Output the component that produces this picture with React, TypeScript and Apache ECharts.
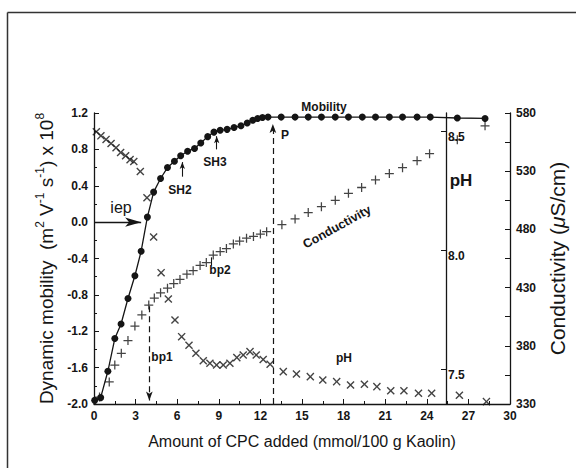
import React, { useEffect, useRef } from "react";
import * as echarts from "echarts";

// ---- data ----
const xTickLabels = [0, 3, 6, 9, 12, 15, 18, 21, 24, 27, 30];

const mobX = [0.05, 0.48, 1.0, 1.5, 1.95, 2.45, 2.95, 3.4, 3.85, 4.3, 4.8, 5.3, 5.8, 6.25, 6.75, 7.25, 7.7, 8.2, 8.65, 9.1, 9.6, 10.1, 10.6, 11.05, 11.45, 11.8, 12.15, 12.55, 13.5, 14.5, 15.45, 16.4, 17.4, 18.35, 19.35, 20.3, 21.3, 22.25, 23.3, 24.25, 26.2, 28.2];
const mobY = [-1.96, -1.93, -1.64, -1.28, -1.12, -0.84, -0.59, -0.32, 0.055, 0.33, 0.48, 0.6, 0.67, 0.73, 0.78, 0.81, 0.87, 0.94, 0.99, 1.01, 1.02, 1.04, 1.06, 1.09, 1.12, 1.14, 1.15, 1.155, 1.155, 1.155, 1.155, 1.155, 1.155, 1.155, 1.155, 1.155, 1.155, 1.155, 1.155, 1.155, 1.145, 1.14];

const condX = [0.4, 1.1, 1.5, 1.97, 2.45, 2.95, 3.45, 3.95, 4.35, 4.8, 5.3, 5.75, 6.2, 6.7, 7.15, 7.65, 8.1, 8.6, 9.1, 9.55, 10.05, 10.5, 11.0, 11.5, 12.0, 12.45, 13.55, 14.5, 15.45, 16.4, 17.4, 18.35, 19.3, 20.3, 21.3, 22.25, 23.3, 24.2, 26.2, 28.2];
const condY = [336, 349, 363.5, 373.5, 384.5, 397, 406.5, 415, 421, 425.5, 429.5, 433.5, 437, 441.5, 444.5, 449, 451.5, 458, 461, 463.5, 467.5, 470, 472.5, 474, 476, 478, 484, 489, 494.5, 499.5, 505, 511, 516, 522.5, 528, 533, 539, 545, 557, 569];

const phX = [0.17, 0.5, 0.87, 1.23, 1.59, 1.92, 2.28, 2.6, 2.87, 3.34, 3.82, 4.3, 4.84, 5.36, 5.84, 6.32, 6.85, 7.35, 7.88, 8.36, 8.84, 9.32, 9.8, 10.3, 10.76, 11.25, 11.7, 12.2, 12.7, 13.65, 14.6, 15.6, 16.5, 17.5, 18.5, 19.5, 20.4, 21.4, 22.35, 23.4, 24.35, 26.35, 28.3];
const phY = [8.497, 8.48, 8.465, 8.448, 8.43, 8.41, 8.396, 8.38, 8.372, 8.33, 8.22, 8.055, 7.905, 7.794, 7.706, 7.636, 7.6, 7.566, 7.535, 7.524, 7.517, 7.517, 7.524, 7.548, 7.559, 7.573, 7.559, 7.54, 7.52, 7.489, 7.479, 7.468, 7.454, 7.447, 7.433, 7.436, 7.426, 7.409, 7.409, 7.398, 7.398, 7.39, 7.363];

const condLabelValues = [330, 380, 430, 480, 530, 580];
const condTickValues = [330, 355, 380, 405, 430, 455, 480, 505, 530, 555, 580];
const phLabelValues = [7.5, 8.0, 8.5];

const FONT = "Liberation Sans, Arial, Helvetica, sans-serif";
const INK = "#151515";
const PLUS = "path://M4.3,0H5.7V4.3H10V5.7H5.7V10H4.3V5.7H0V4.3H4.3Z";

const zip = (xs: number[], ys: number[]) => xs.map((x, i) => [x, ys[i]]);

export default function App() {
  const ref = useRef<HTMLDivElement>(null);
  useEffect(() => {
    document.body.style.margin = "0";
    const chart = echarts.init(ref.current!, null, { renderer: "svg" });
    const tickLabel = { color: INK, fontSize: 12, fontWeight: "bold" as const, fontFamily: FONT };
    const label = (text: string, x: number, y: number, size = 12, bold = true, rotation = 0) => ({
      type: "text",
      x,
      y,
      rotation,
      style: {
        text,
        fontSize: size,
        fontWeight: bold ? "bold" : "normal",
        fontFamily: FONT,
        fill: INK,
        align: "center",
        verticalAlign: "middle",
      },
    });
    const option: any = {
      animation: false,
      backgroundColor: "#fff",
      textStyle: { fontFamily: FONT, color: INK },
      grid: { left: 94, right: 66, top: 113, bottom: 64 },
      xAxis: {
        type: "value",
        min: 0,
        max: 30,
        interval: 3,
        axisLine: { show: true, onZero: false, lineStyle: { color: INK, width: 1.3 } },
        axisTick: { show: true, inside: true, length: 5, lineStyle: { color: INK } },
        minorTick: { show: true, splitNumber: 2, length: 3, lineStyle: { color: INK } },
        splitLine: { show: false },
        axisLabel: { ...tickLabel, margin: 6, customValues: xTickLabels },
        name: "Amount of CPC added (mmol/100 g Kaolin)",
        nameLocation: "middle",
        nameGap: 29,
        nameTextStyle: { fontSize: 16, color: INK, fontFamily: FONT },
      },
      yAxis: [
        {
          type: "value",
          min: -2,
          max: 1.2,
          interval: 0.4,
          position: "left",
          axisLine: { show: true, onZero: false, lineStyle: { color: INK, width: 1.3 } },
          axisTick: { show: true, inside: true, length: 5, lineStyle: { color: INK } },
          minorTick: { show: true, splitNumber: 2, length: 3, lineStyle: { color: INK } },
          splitLine: { show: false },
          axisLabel: { ...tickLabel, margin: 6, formatter: (v: number) => v.toFixed(1) },
          name: "{a|Dynamic mobility  (m}{s|2}{a| V}{s|-1}{a| s}{s|-1}{a|) x 10}{s|8}",
          nameLocation: "middle",
          nameRotate: 90,
          nameGap: 34,
          nameTextStyle: {
            rich: {
              a: { fontSize: 19, fontFamily: FONT, color: INK, lineHeight: 22, verticalAlign: "bottom" },
              s: { fontSize: 12, fontFamily: FONT, color: INK, lineHeight: 12, verticalAlign: "top" },
            },
          },
        },
        {
          type: "value",
          min: 330,
          max: 580,
          position: "right",
          axisLine: { show: true, onZero: false, lineStyle: { color: INK, width: 1.3 } },
          axisTick: { show: true, inside: true, length: 5, customValues: condTickValues, lineStyle: { color: INK } },
          splitLine: { show: false },
          axisLabel: { ...tickLabel, margin: 6, customValues: condLabelValues },
          name: "{a|Conductivity (}{i|μ}{a|S/cm)}",
          nameLocation: "middle",
          nameRotate: 90,
          nameGap: 32,
          nameTextStyle: {
            rich: {
              a: { fontSize: 21, fontFamily: FONT, color: INK },
              i: { fontSize: 21, fontFamily: FONT, color: INK, fontStyle: "italic" },
            },
          },
        },
        {
          type: "value",
          min: 7.353,
          max: 8.576,
          position: "right",
          offset: -64,
          axisLine: { show: true, onZero: false, lineStyle: { color: INK, width: 1.3 } },
          axisTick: { show: true, inside: true, length: 5, customValues: phLabelValues, lineStyle: { color: INK } },
          splitLine: { show: false },
          axisLabel: {
            ...tickLabel,
            margin: 2,
            verticalAlign: "top",
            customValues: phLabelValues,
            formatter: (v: number) => v.toFixed(1),
          },
        },
      ],
      series: [
        {
          name: "Mobility",
          type: "line",
          xAxisIndex: 0,
          yAxisIndex: 0,
          data: zip(mobX, mobY),
          symbol: "circle",
          symbolSize: 7,
          itemStyle: { color: INK },
          lineStyle: { color: INK, width: 1.3 },
          z: 4,
          markLine: {
            silent: true,
            animation: false,
            label: { show: false },
            emphasis: { disabled: true },
            lineStyle: { color: INK, width: 1.3, type: "solid" },
            data: [
              [
                { coord: [0, 0], symbol: "none" },
                { coord: [3.4, 0], symbol: "arrow", symbolSize: [7, 16] },
              ],
              [
                { coord: [12.9, -2], symbol: "none", lineStyle: { type: [6, 4], width: 1.2 } },
                { coord: [12.9, 1.08], symbol: "arrow", symbolSize: [5, 9] },
              ],
              [
                { coord: [6.37, 0.5], symbol: "none", lineStyle: { width: 1.1 } },
                { coord: [6.37, 0.66], symbol: "arrow", symbolSize: [4, 7] },
              ],
              [
                { coord: [8.85, 0.8], symbol: "none", lineStyle: { width: 1.1 } },
                { coord: [8.85, 0.945], symbol: "arrow", symbolSize: [4, 7] },
              ],
            ],
          },
        },
        {
          name: "Conductivity",
          type: "scatter",
          xAxisIndex: 0,
          yAxisIndex: 1,
          data: zip(condX, condY),
          symbol: PLUS,
          symbolSize: 9,
          itemStyle: { color: INK },
          z: 3,
          markLine: {
            silent: true,
            animation: false,
            label: { show: false },
            emphasis: { disabled: true },
            lineStyle: { color: INK, width: 1.2, type: [6, 4] },
            data: [
              [
                { coord: [3.99, 414], symbol: "none" },
                { coord: [3.99, 333], symbol: "arrow", symbolSize: [5, 9] },
              ],
              [
                { coord: [8.42, 456], symbol: "none", lineStyle: { type: "solid", width: 1.1 } },
                { coord: [8.42, 449], symbol: "none" },
              ],
            ],
          },
        },
        {
          name: "pH",
          type: "scatter",
          xAxisIndex: 0,
          yAxisIndex: 2,
          data: zip(phX, phY),
          symbol: PLUS,
          symbolRotate: 45,
          symbolSize: 10,
          itemStyle: { color: INK },
          z: 3,
        },
      ],
      graphic: [
        { type: "line", shape: { x1: 7.5, y1: 12.5, x2: 576, y2: 12.5 }, style: { stroke: "#333", lineWidth: 1.5 } },
        { type: "line", shape: { x1: 7.5, y1: 12.5, x2: 7.5, y2: 468 }, style: { stroke: "#333", lineWidth: 1.5 } },
        label("Mobility", 324, 107),
        label("P", 285, 135),
        label("SH2", 180, 190),
        label("SH3", 215, 162),
        label("iep", 121, 207, 16, false),
        label("bp1", 162, 357),
        label("bp2", 220, 270),
        label("pH", 344, 358),
        label("pH", 461, 180, 17),
        label("Conductivity", 337, 227, 12.5, true, (29 * Math.PI) / 180),
      ],
    };
    chart.setOption(option);
    return () => chart.dispose();
  }, []);
  return (
    <div
      ref={ref}
      style={{ position: "absolute", left: 0, top: 0, width: 576, height: 468, background: "#fff" }}
    />
  );
}
